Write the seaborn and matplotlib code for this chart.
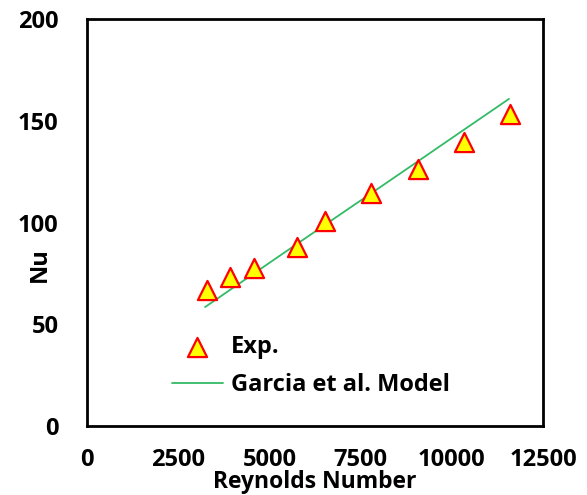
import numpy as np
import pandas as pd
import matplotlib
matplotlib.use('Agg')
import matplotlib.pyplot as plt
import seaborn as sns

# experimental points
re_exp = [3300, 3920, 4580, 5760, 6520, 7790, 9070, 10330, 11600]
nu_exp = [67, 73, 77.5, 88, 100.5, 114.5, 126.5, 139.5, 153.5]

# Garcia et al. model
re_model = [3240, 4580, 5760, 6520, 7790, 9070, 10330, 11570]
nu_model = [58.5, 75, 89.5, 98.8, 114.3, 130, 145.5, 160.7]

df_exp = pd.DataFrame({'Re': re_exp, 'Nu': nu_exp})
df_model = pd.DataFrame({'Re': re_model, 'Nu': nu_model})

sns.set_style('white')
plt.rcParams['font.family'] = ['Open Sans', 'DejaVu Sans']
plt.rcParams['text.color'] = 'black'
plt.rcParams['axes.labelcolor'] = 'black'

fig = plt.figure(figsize=(5.87, 4.95), dpi=100)
ax = fig.add_axes([0.148, 0.139, 0.777, 0.823])

sns.lineplot(data=df_model, x='Re', y='Nu', ax=ax, color='#33BB66', linewidth=1.3,
             label='Garcia et al. Model')
sns.scatterplot(data=df_exp, x='Re', y='Nu', ax=ax, marker='^', s=190,
                color='#FFFF00', edgecolor='#FF0000', linewidth=1.6, label='Exp.', zorder=3)

ax.set_xlim(0, 12500)
ax.set_ylim(0, 200)
ax.set_xticks([0, 2500, 5000, 7500, 10000, 12500])
ax.set_yticks([0, 50, 100, 150, 200])

for s in ax.spines.values():
    s.set_color('black')
    s.set_linewidth(2)
ax.tick_params(direction='out', length=7.5, width=2, colors='black', labelsize=17)
ax.tick_params(axis='x', pad=8)
ax.tick_params(axis='y', pad=13)
for lab in ax.get_xticklabels() + ax.get_yticklabels():
    lab.set_fontweight('bold')

ax.set_xlabel('Reynolds Number', fontsize=16.5, fontweight='bold')
ax.set_ylabel('Nu', fontsize=17, fontweight='bold')
ax.xaxis.set_label_coords(0.5, -0.108)
ax.yaxis.set_label_coords(-0.076, 0.396)

h, l = ax.get_legend_handles_labels()
ax.legend(h[::-1], l[::-1], frameon=False, loc='upper left', bbox_to_anchor=(0.186, 0.224),
          borderaxespad=0, borderpad=0, prop={'weight': 'bold', 'size': 17},
          handlelength=2.16, handletextpad=0.33, labelspacing=0.6)

fig.savefig('out.png', dpi=100)
